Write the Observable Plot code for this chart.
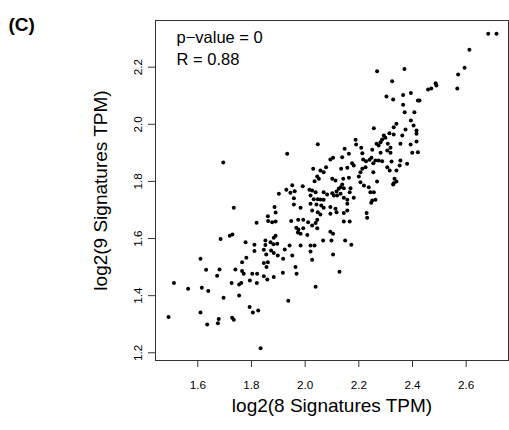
<!DOCTYPE html>
<html><head><meta charset="utf-8">
<script src="https://cdn.jsdelivr.net/npm/d3@7"></script>
<script src="https://cdn.jsdelivr.net/npm/@observablehq/plot@0.6"></script>
<style>body{margin:0;background:#fff} #chart svg{display:block}</style>
</head><body><div id="chart"></div>
<script>
// log2(8 Signatures TPM)
const sig8 = [2.682,2.713,2.612,2.594,2.570,2.567,2.370,2.268,2.324,2.486,2.489,2.470,2.458,2.303,2.328,2.365,2.394,2.420,2.426,2.365,
2.371,2.407,2.394,2.404,2.415,2.415,2.374,2.340,2.330,2.256,2.314,2.330,2.362,2.293,2.299,2.287,2.281,2.266,2.274,2.047,
2.188,2.190,2.308,2.318,2.306,2.318,2.355,2.250,2.147,2.163,2.209,2.213,2.281,2.094,2.104,2.138,2.415,2.393,2.399,2.420,
1.933,1.695,2.216,2.227,2.240,2.247,2.262,2.254,2.274,2.287,2.322,2.355,2.380,2.175,2.181,2.157,2.057,2.030,2.078,2.069,
2.134,2.213,2.225,2.206,2.254,2.306,2.315,2.340,2.352,2.045,2.051,2.035,2.101,2.113,2.142,2.163,2.200,2.206,2.268,2.333,
2.340,2.328,2.138,2.132,2.144,2.219,2.237,2.169,2.026,2.039,2.069,2.082,2.101,2.107,2.117,2.119,2.132,2.166,2.243,2.256,
1.952,1.991,2.016,1.945,1.961,1.902,1.958,2.020,2.032,2.047,2.057,2.069,2.144,2.157,2.181,2.250,2.262,2.330,1.930,2.125,
1.958,2.020,2.042,2.060,2.094,2.069,2.113,2.117,2.144,2.157,2.229,2.231,2.045,2.039,2.026,2.144,2.166,1.734,1.886,1.890,
1.983,2.026,2.047,2.057,2.094,1.861,1.862,1.877,1.890,1.819,1.948,1.974,1.993,2.011,2.157,2.246,1.967,1.975,1.993,2.045,
1.973,1.983,2.008,2.094,2.104,1.719,1.890,1.883,1.778,1.852,1.871,1.896,1.811,1.811,1.846,1.873,1.883,1.898,1.942,1.924,
1.983,2.020,2.035,2.020,2.067,2.098,1.781,1.765,1.855,1.846,1.861,1.918,1.952,2.026,1.856,2.149,2.172,2.104,1.964,1.968,
1.917,1.883,2.128,2.039,1.937,1.685,1.729,1.852,1.610,1.631,1.681,1.740,1.765,1.771,1.803,1.821,1.672,1.846,1.859,1.511,
1.726,1.754,1.762,1.794,1.820,1.564,1.615,1.639,1.696,1.754,1.793,1.805,1.825,1.610,1.491,1.678,1.675,1.635,1.728,1.734,
1.834,1.882];
// log2(9 Signatures TPM)
const sig9 = [2.317,2.317,2.261,2.198,2.174,2.125,2.194,2.186,2.151,2.144,2.136,2.125,2.122,2.097,2.087,2.103,2.110,2.083,2.083,2.068,
2.042,2.042,2.013,1.996,1.978,1.967,1.982,2.002,1.990,1.986,1.969,1.964,1.961,1.961,1.953,1.947,1.937,1.932,1.926,1.930,
1.946,1.929,1.932,1.918,1.908,1.900,1.932,1.911,1.914,1.897,1.918,1.899,1.900,1.877,1.883,1.885,1.940,1.929,1.900,1.902,
1.897,1.866,1.877,1.871,1.876,1.883,1.873,1.864,1.873,1.871,1.870,1.873,1.862,1.864,1.856,1.848,1.838,1.844,1.850,1.832,
1.844,1.844,1.850,1.832,1.832,1.850,1.838,1.838,1.856,1.817,1.809,1.801,1.809,1.803,1.809,1.813,1.817,1.797,1.800,1.809,
1.800,1.789,1.789,1.780,1.776,1.786,1.780,1.776,1.768,1.762,1.762,1.754,1.759,1.751,1.765,1.751,1.757,1.762,1.762,1.762,
1.787,1.783,1.771,1.760,1.766,1.757,1.741,1.751,1.738,1.738,1.737,1.736,1.743,1.736,1.743,1.733,1.736,1.794,1.771,1.774,
1.719,1.722,1.719,1.716,1.710,1.708,1.704,1.692,1.689,1.698,1.689,1.673,1.666,1.654,1.646,1.660,1.660,1.708,1.710,1.691,
1.708,1.698,1.692,1.684,1.687,1.678,1.661,1.657,1.660,1.655,1.661,1.666,1.666,1.657,1.722,1.725,1.638,1.632,1.636,1.636,
1.621,1.617,1.612,1.624,1.617,1.610,1.610,1.603,1.587,1.593,1.587,1.582,1.578,1.556,1.561,1.558,1.549,1.541,1.576,1.562,
1.576,1.576,1.576,1.555,1.593,1.593,1.533,1.517,1.544,1.514,1.517,1.529,1.541,1.526,1.500,1.593,1.578,1.544,1.500,1.477,
1.480,1.465,1.484,1.431,1.382,1.598,1.614,1.577,1.529,1.491,1.492,1.492,1.486,1.477,1.477,1.477,1.470,1.468,1.457,1.444,
1.444,1.439,1.444,1.453,1.444,1.424,1.428,1.416,1.393,1.401,1.360,1.341,1.348,1.341,1.325,1.318,1.303,1.299,1.323,1.316,
1.216,1.580];
const xTicks = [1.6, 1.8, 2.0, 2.2, 2.4, 2.6];
const yTicks = [1.2, 1.4, 1.6, 1.8, 2.0, 2.2];
const xTitle = "log2(8 Signatures TPM)";
const yTitle = "log2(9 Signatures TPM)";
const panelLabel = "(C)";
const statLines = ["p\u2212value = 0", "R = 0.88"];

const points = sig8.map((x, i) => ({x, y: sig9[i]}));
const fmt = d3.format(".1f");

const chart = Plot.plot({
  width: 509,
  height: 430,
  marginLeft: 155,
  marginRight: 1,
  marginTop: 20,
  marginBottom: 70,
  style: {fontFamily: "'Liberation Sans', Arial, sans-serif", fontSize: "11.7px", background: "#fff", color: "#000"},
  x: {domain: [1.4424, 2.7577]},
  y: {domain: [1.173, 2.3634]},
  marks: [
    Plot.frame({stroke: "#333"}),
    Plot.axisX({ticks: xTicks, tickSize: 7, tickPadding: 13, tickFormat: fmt, label: null, stroke: "#333"}),
    Plot.axisY({ticks: yTicks, tickSize: 7, tickPadding: 6.5, tickRotate: -90, tickFormat: fmt, label: null, stroke: "#333"}),
    Plot.dot(points, {x: "x", y: "y", r: 2, fill: "#000", stroke: null}),
    Plot.text([xTitle], {frameAnchor: "bottom", dy: 45, fontSize: 19, textAnchor: "middle", lineAnchor: "middle", text: d => d}),
    Plot.text([yTitle], {frameAnchor: "left", dx: -55, rotate: -90, fontSize: 19, textAnchor: "middle", lineAnchor: "middle", text: d => d}),
    Plot.text([statLines[0]], {frameAnchor: "top-left", dx: 21, dy: 17.7, fontSize: 16.5, textAnchor: "start", lineAnchor: "middle", text: d => d}),
    Plot.text([statLines[1]], {frameAnchor: "top-left", dx: 21, dy: 39.7, fontSize: 16.5, textAnchor: "start", lineAnchor: "middle", text: d => d}),
    Plot.text([panelLabel], {frameAnchor: "top-left", dx: -147, dy: 4, fontSize: 19, fontWeight: "bold", textAnchor: "start", lineAnchor: "middle", text: d => d})
  ]
});
document.getElementById("chart").appendChild(chart);
</script>
</body></html>
